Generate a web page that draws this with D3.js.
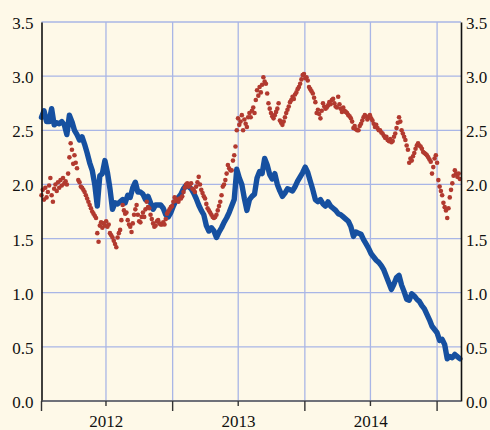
<!DOCTYPE html>
<html>
<head>
<meta charset="utf-8">
<script src="https://cdn.jsdelivr.net/npm/d3@7"></script>
<style>
html,body{margin:0;padding:0;background:#fef9e8;}
svg{display:block;}
svg text{font-family:"Liberation Serif",serif !important;font-size:17px !important;}
</style>
</head>
<body>
<svg id="chart" width="490" height="430"></svg>
<script>
// ---- data ----
const startDate = "2012-01-05";
const endDate = "2015-03-08";
const yTicks = [0.0, 0.5, 1.0, 1.5, 2.0, 2.5, 3.0, 3.5];
const yearLabels = ["2012", "2013", "2014"];
const blueStepDays = 7;
const blueValues = [
 2.62,2.68,2.58,2.58,2.70,2.55,2.57,2.56,2.58,2.55,
 2.46,2.64,2.58,2.50,2.46,2.41,2.44,2.37,2.29,2.20,
 2.13,2.00,1.80,2.08,2.10,2.22,2.11,1.96,1.77,1.83,
 1.82,1.84,1.86,1.83,1.90,1.88,1.97,2.02,1.93,1.93,
 1.91,1.86,1.89,1.83,1.77,1.81,1.81,1.81,1.78,1.72,
 1.70,1.74,1.80,1.85,1.88,1.91,1.96,1.99,1.98,1.96,
 1.92,1.87,1.81,1.76,1.72,1.62,1.57,1.60,1.57,1.51,
 1.56,1.60,1.65,1.69,1.74,1.80,1.86,2.14,2.06,2.00,
 1.87,1.76,1.86,1.89,1.91,2.06,2.12,2.10,2.24,2.18,
 2.09,2.05,2.10,2.00,1.94,1.89,1.92,1.96,1.95,1.94,
 1.98,2.03,2.07,2.11,2.16,2.11,2.03,1.95,1.86,1.84,
 1.86,1.82,1.80,1.84,1.80,1.78,1.76,1.73,1.72,1.70,
 1.68,1.66,1.61,1.52,1.56,1.55,1.54,1.49,1.45,1.41,
 1.36,1.33,1.30,1.28,1.25,1.21,1.15,1.09,1.03,1.08,
 1.14,1.16,1.07,1.01,0.94,0.93,0.99,0.97,0.94,0.92,
 0.88,0.85,0.80,0.75,0.69,0.66,0.63,0.56,0.57,0.52,
 0.39,0.41,0.40,0.43,0.41,0.39
];
const redStepDays = 3.5;
const redValues = [
 1.90,1.95,1.86,1.97,1.88,1.93,1.99,2.06,1.90,1.84,
 1.96,2.00,1.94,2.02,1.97,2.04,1.99,2.06,2.01,2.03,
 2.00,2.10,2.25,2.38,2.32,2.19,2.27,2.20,2.15,2.04,
 2.02,1.98,1.97,1.95,1.93,1.90,1.87,1.84,1.81,1.78,
 1.75,1.73,1.71,1.69,1.55,1.47,1.62,1.65,1.60,1.64,
 1.62,1.66,1.61,1.63,1.55,1.53,1.51,1.48,1.45,1.42,
 1.51,1.55,1.58,1.67,1.81,1.76,1.73,1.74,1.67,1.63,
 1.61,1.56,1.64,1.72,1.77,1.81,1.72,1.66,1.65,1.70,
 1.74,1.70,1.77,1.84,1.79,1.78,1.72,1.68,1.64,1.61,
 1.62,1.66,1.67,1.64,1.63,1.63,1.65,1.63,1.68,1.73,
 1.75,1.77,1.79,1.80,1.84,1.88,1.85,1.86,1.84,1.87,
 1.87,1.89,1.93,1.97,2.00,2.01,1.98,2.00,2.01,1.96,
 1.95,1.93,1.98,2.02,2.07,2.00,1.95,1.92,1.89,1.87,
 1.82,1.78,1.76,1.74,1.72,1.70,1.69,1.70,1.72,1.76,
 1.80,1.84,1.90,1.98,2.00,2.04,2.10,2.18,2.15,2.13,
 2.13,2.22,2.27,2.35,2.50,2.61,2.55,2.58,2.64,2.50,
 2.60,2.56,2.53,2.62,2.66,2.62,2.68,2.71,2.66,2.78,
 2.87,2.82,2.90,2.85,2.92,2.99,2.95,2.93,2.84,2.75,
 2.70,2.66,2.63,2.61,2.64,2.67,2.70,2.75,2.59,2.57,
 2.55,2.58,2.62,2.66,2.69,2.72,2.76,2.78,2.81,2.79,
 2.83,2.85,2.88,2.90,2.93,2.97,3.01,3.02,2.98,2.99,
 2.96,2.90,2.88,2.86,2.84,2.80,2.76,2.66,2.69,2.65,
 2.61,2.68,2.75,2.72,2.70,2.71,2.73,2.76,2.74,2.78,
 2.79,2.75,2.72,2.71,2.81,2.74,2.70,2.67,2.71,2.68,
 2.67,2.66,2.64,2.63,2.61,2.58,2.52,2.54,2.51,2.50,
 2.50,2.54,2.56,2.59,2.62,2.64,2.63,2.60,2.62,2.64,
 2.61,2.59,2.56,2.53,2.55,2.52,2.50,2.50,2.48,2.47,
 2.45,2.43,2.44,2.41,2.40,2.42,2.39,2.40,2.44,2.47,
 2.52,2.57,2.62,2.58,2.50,2.47,2.44,2.41,2.36,2.32,
 2.20,2.24,2.22,2.26,2.29,2.33,2.36,2.38,2.36,2.35,
 2.33,2.30,2.29,2.28,2.27,2.25,2.23,2.21,2.10,2.16,
 2.24,2.27,2.20,2.04,1.98,1.94,1.90,1.83,1.79,1.76,
 1.69,1.78,1.88,1.95,2.01,2.08,2.13,2.10,2.07,2.10,
 2.05
];

// ---- layout ----
const plotL = 41.5, plotR = 461, plotT = 22, plotB = 401;
const svg = d3.select("#chart");
const parse = d3.utcParse("%Y-%m-%d");
const t0 = parse(startDate), t1 = parse(endDate);
const DAY = 86400000;
const x = d3.scaleUtc().domain([t0, t1]).range([plotL, plotR]);
const y = d3.scaleLinear().domain([0, 3.5]).range([plotB, plotT]);

const blue = blueValues.map((v, i) => ({d: new Date(+t0 + i * blueStepDays * DAY), v}));
const red = redValues.map((v, i) => ({d: new Date(+t0 + i * redStepDays * DAY), v}));

const gridColor = "#a9b6e6";
const halfYears = d3.utcMonth.every(6).range(t0, t1);
svg.append("g").selectAll("line").data(halfYears).join("line")
  .attr("x1", d => x(d)).attr("x2", d => x(d))
  .attr("y1", plotT).attr("y2", plotB)
  .attr("stroke", gridColor).attr("stroke-width", 1.3);
svg.append("g").selectAll("line").data(yTicks).join("line")
  .attr("x1", plotL).attr("x2", plotR)
  .attr("y1", d => y(d)).attr("y2", d => y(d))
  .attr("stroke", gridColor).attr("stroke-width", 1.3);

svg.append("path").datum(blue)
  .attr("d", d3.line().x(d => x(d.d)).y(d => y(d.v)))
  .attr("fill", "none").attr("stroke", "#1650a0")
  .attr("stroke-width", 5.4).attr("stroke-linejoin", "round").attr("stroke-linecap", "round");

svg.append("g").selectAll("circle").data(red).join("circle")
  .attr("cx", d => x(d.d)).attr("cy", d => y(d.v)).attr("r", 2.3)
  .attr("fill", "#b23a2f");

const yAxisL = d3.axisLeft(y).tickValues(yTicks).tickFormat(d3.format(".1f")).tickSize(0).tickPadding(8);
const gl = svg.append("g").attr("transform", `translate(${plotL},0)`).call(yAxisL);
gl.select(".domain").attr("stroke", "#111").attr("stroke-width", 1.6);
gl.selectAll("text").attr("fill", "#111").attr("dy", "0.38em");

const yAxisR = d3.axisRight(y).tickValues(yTicks).tickFormat(d3.format(".1f")).tickSize(0).tickPadding(5);
const gr = svg.append("g").attr("transform", `translate(${plotR},0)`).call(yAxisR);
gr.select(".domain").attr("stroke", "#111").attr("stroke-width", 1.6);
gr.selectAll("text").attr("fill", "#111").attr("dy", "0.38em");

const gb = svg.append("g");
gb.append("line").attr("x1", plotL).attr("x2", plotR).attr("y1", plotB).attr("y2", plotB)
  .attr("stroke", "#555").attr("stroke-width", 1.6);
const tickDates = [t0].concat(halfYears);
gb.selectAll("line.tick").data(tickDates).join("line").attr("class", "tick")
  .attr("x1", d => x(d)).attr("x2", d => x(d))
  .attr("y1", plotB).attr("y2", d => (d.getUTCMonth() === 0 || d === t0) ? plotB + 10 : plotB + 5)
  .attr("stroke", "#333").attr("stroke-width", 1.4);
gb.selectAll("text").data(yearLabels).join("text")
  .attr("x", d => x(parse(d + "-07-02")))
  .attr("y", 427)
  .attr("text-anchor", "middle")
  .attr("fill", "#111")
  .text(d => d);
</script>
</body>
</html>
